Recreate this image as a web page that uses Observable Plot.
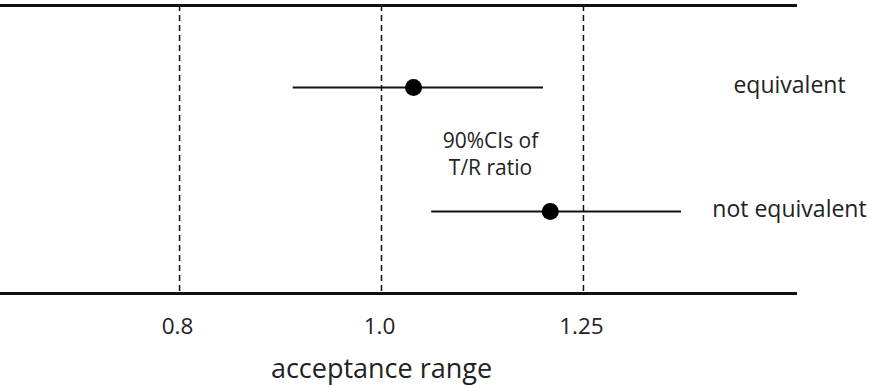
<!DOCTYPE html>
<html>
<head>
<meta charset="utf-8">
<script src="https://cdn.jsdelivr.net/npm/d3@7"></script>
<script src="https://cdn.jsdelivr.net/npm/@observablehq/plot@0.6"></script>
<style>
  html, body { margin: 0; padding: 0; background: #fff; }
  #chart svg { display: block; background: #fff; }
</style>
</head>
<body>
<div id="chart"></div>
<script>
// Data
const categories = ["equivalent", "not equivalent"];
const estimates = [1.036, 1.205];
const lower = [0.907, 1.057];
const upper = [1.196, 1.393];
const limits = [0.8, 1.0, 1.25];
const tickLabels = ["0.8", "1.0", "1.25"];
const axisLabel = "acceptance range";
const annotation = "90%CIs of\nT/R ratio";

const data = categories.map((c, i) => ({cat: c, est: estimates[i], lo: lower[i], hi: upper[i]}));

const chart = Plot.plot({
  width: 870,
  height: 388,
  marginLeft: 0,
  marginRight: 75,
  marginTop: 5,
  marginBottom: 95,
  style: {fontFamily: "'Open Sans', sans-serif", background: "#fff", color: "#222"},
  x: {type: "log", domain: [0.6564, 1.580], axis: null},
  y: {type: "point", domain: categories, range: [87, 211], padding: 0, axis: null},
  marks: [
    Plot.ruleX(limits, {stroke: "#111", strokeWidth: 1.5, strokeDasharray: "6,4"}),
    Plot.frame({anchor: "top", stroke: "#111", strokeWidth: 3}),
    Plot.frame({anchor: "bottom", stroke: "#111", strokeWidth: 3}),
    Plot.ruleY(data, {y: "cat", x1: "lo", x2: "hi", stroke: "#111", strokeWidth: 2}),
    Plot.dot(data, {x: "est", y: "cat", r: 8.5, fill: "#000", stroke: "none"}),
    Plot.text(data, {y: "cat", text: "cat", frameAnchor: "right", dx: -6, dy: -2, textAnchor: "middle", fontSize: 23, fill: "#222"}),
    Plot.text([annotation], {frameAnchor: "middle", dx: 92.5, dy: 3, fontSize: 21, lineHeight: 1.3, fill: "#222"}),
    // tick labels at the acceptance limits
    Plot.text(limits, {x: d => d, text: (d, i) => tickLabels[i], frameAnchor: "bottom", dx: -2, dy: 40, fontSize: 22.5, fill: "#222"}),
    Plot.text([limits[1]], {x: d => d, text: () => axisLabel, frameAnchor: "bottom", dy: 84, fontSize: 27, fill: "#222"})
  ]
});
document.getElementById("chart").appendChild(chart);
</script>
</body>
</html>
